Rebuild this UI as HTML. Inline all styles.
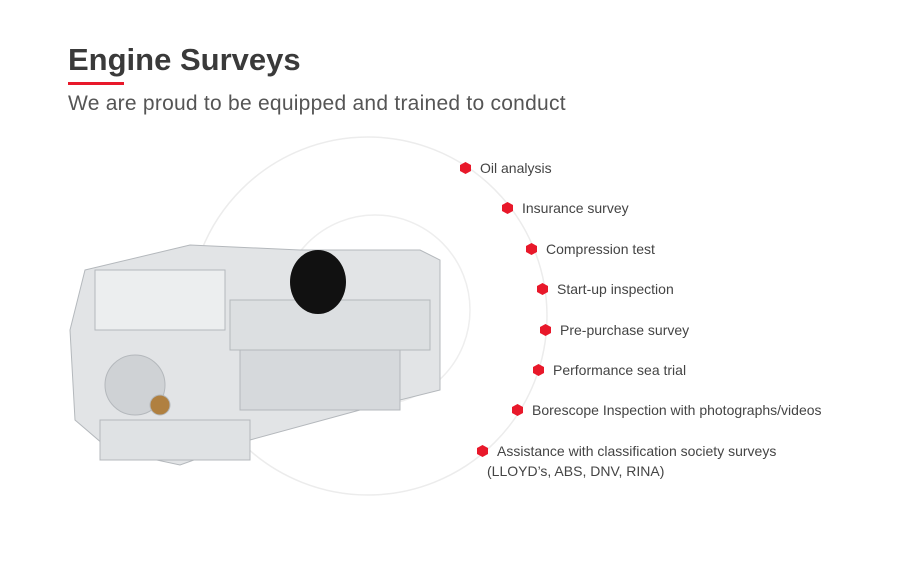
<!DOCTYPE html>
<html><head><style>
body{margin:0;width:900px;height:568px;background:#fff;overflow:hidden;font-family:"Liberation Sans",sans-serif;position:relative}
h1{position:absolute;left:68px;top:42px;margin:0;font-size:31px;font-weight:bold;color:#3a3a3a;letter-spacing:0}
.ul{position:absolute;left:68px;top:82px;width:56px;height:3px;background:#e8182a}
.sub{position:absolute;left:68px;top:92px;font-size:21px;color:#555;letter-spacing:0.25px}
.b{position:absolute;font-size:14px;color:#444;line-height:20px}
.b i{position:absolute;left:-20px;top:4px;width:11px;height:12px;background:#e8182a;clip-path:polygon(50% 0,100% 25%,100% 75%,50% 100%,0 75%,0 25%)}
</style></head><body>
<h1>Engine Surveys</h1><div class="ul"></div>
<div class="sub">We are proud to be equipped and trained to conduct</div>
<svg width="900" height="568" style="position:absolute;left:0;top:0">
<circle cx="368" cy="316" r="179" fill="none" stroke="#ececec" stroke-width="1.5"/>
<circle cx="375" cy="310" r="95" fill="none" stroke="#eeeeee" stroke-width="1.5"/>
<g fill="#e2e4e6" stroke="#b4b8bc" stroke-width="1">
<path d="M85 270 L190 245 L300 250 L420 250 L440 260 L440 390 L360 410 L250 440 L180 465 L110 450 L75 420 L70 330 Z"/>
<rect x="95" y="270" width="130" height="60" fill="#eceeef"/>
<rect x="230" y="300" width="200" height="50" fill="#dcdfe1"/>
<rect x="240" y="350" width="160" height="60" fill="#d6d9dc"/>
<circle cx="135" cy="385" r="30" fill="#cfd2d5"/>
<circle cx="160" cy="405" r="10" fill="#b08040"/>
<rect x="100" y="420" width="150" height="40" fill="#dfe2e4"/>
</g>
<ellipse cx="318" cy="282" rx="28" ry="32" fill="#111"/>
</svg>
<div class="b" style="left:480px;top:158px"><i></i>Oil analysis</div>
<div class="b" style="left:522px;top:198px"><i></i>Insurance survey</div>
<div class="b" style="left:546px;top:239px"><i></i>Compression test</div>
<div class="b" style="left:557px;top:279px"><i></i>Start-up inspection</div>
<div class="b" style="left:560px;top:320px"><i></i>Pre-purchase survey</div>
<div class="b" style="left:553px;top:360px"><i></i>Performance sea trial</div>
<div class="b" style="left:532px;top:400px"><i></i>Borescope Inspection with photographs/videos</div>
<div class="b" style="left:497px;top:441px"><i></i>Assistance with classification society surveys<br><span style="margin-left:-10px">(LLOYD’s, ABS, DNV, RINA)</span></div>
</body></html>
